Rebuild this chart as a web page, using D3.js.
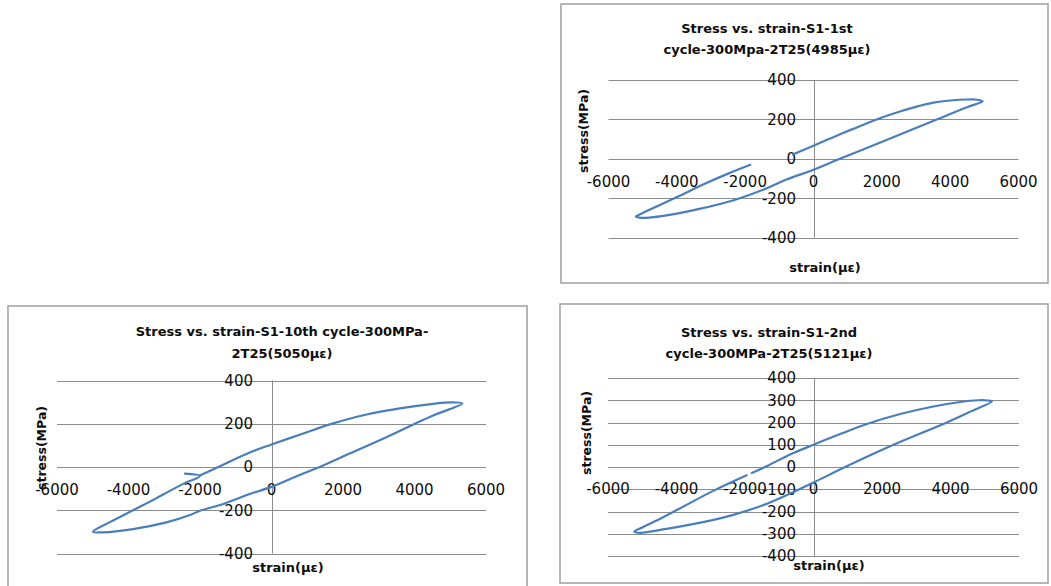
<!DOCTYPE html>
<html>
<head>
<meta charset="utf-8">
<script src="https://cdn.jsdelivr.net/npm/d3@7"></script>
<style>
  body { margin: 0; background: #fff; }
  svg { display: block; }
  text { font-family: "DejaVu Sans", sans-serif; fill: #0d0d0d; }
</style>
</head>
<body>
<div id="chart"></div>
<script>
// tick values
const xTicks = [-6000, -4000, -2000, 0, 2000, 4000, 6000];
const yTicks200 = [-400, -200, 0, 200, 400];
const yTicks100 = [-400, -300, -200, -100, 0, 100, 200, 300, 400];

// S1 1st cycle
const strain1 = [-1850, -2500, -3200, -3950, -4450, -4850, -5100, -5200, -5050, -4800, -4300, -3340, -2360, -1380, -790, 0, 773, 1560, 2530, 3610, 4490, 4950, 4800, 4500, 4000, 3510, 3020, 2530, 1850, 1160, 580, 0, -400, -600];
const stress1 = [-30, -75, -128, -190, -230, -262, -284, -292, -299, -298, -287, -254, -211, -150, -105, -55, 0, 55, 124, 200, 262, 292, 300, 301, 296, 285, 265, 240, 200, 152, 110, 67, 37, 22];

// S1 10th cycle
const strain10 = [-2420, -2000, -2470, -3400, -3870, -4520, -4990, -4710, -3870, -2940, -2280, -2000, -1350, -610, 0, 885, 1350, 2190, 3120, 4010, 4520, 5340, 5000, 4520, 3590, 2660, 1630, 890, 0, -610, -1490, -1990];
const stress10 = [-31, -42, -78, -160, -200, -255, -299, -302, -287, -256, -222, -202, -171, -125, -92, -30, 0, 62, 131, 200, 238, 294, 299, 292, 271, 243, 197, 155, 104, 67, 0, -38];

// S1 2nd cycle
const strain2 = [-1950, -2900, -3950, -4600, -5000, -5230, -5060, -4300, -3300, -2340, -1360, -580, 0, 924, 2335, 3892, 4600, 5210, 5100, 4800, 4280, 3500, 2530, 1560, 780, 0, -700, -1360, -1800];
const stress2 = [-37, -105, -190, -242, -272, -290, -296, -278, -250, -215, -165, -112, -70, 0, 100, 200, 250, 295, 299, 300, 292, 272, 238, 193, 148, 100, 55, 4, -27];

const width = 1051, height = 586;

const panels = [
  {
    frame: [561, 4, 1048, 283],
    xr: [608.5, 1018.5], yr: [80, 237.7],
    yTicks: yTicks200, xLabelY: 182, yLabelRight: 796,
    titleX: 767, titleY: [28, 49],
    title: ["Stress vs. strain-S1-1st", "cycle-300Mpa-2T25(4985\u03bc\u03b5)"],
    yTitle: [583, 131], xTitle: [825, 267],
    strain: strain1, stress: stress1
  },
  {
    frame: [8, 306, 527, 590],
    xr: [57, 486], yr: [380.5, 553.5],
    yTicks: yTicks200, xLabelY: 490, yLabelRight: 253,
    titleX: 282, titleY: [331, 353],
    title: ["Stress vs. strain-S1-10th cycle-300MPa-", "2T25(5050\u03bc\u03b5)"],
    yTitle: [41, 448], xTitle: [288, 567],
    strain: strain10, stress: stress10
  },
  {
    frame: [560, 304, 1048, 583],
    xr: [608, 1019], yr: [378, 556],
    yTicks: yTicks100, xLabelY: 489, yLabelRight: 796,
    titleX: 769, titleY: [332, 353],
    title: ["Stress vs. strain-S1-2nd", "cycle-300MPa-2T25(5121\u03bc\u03b5)"],
    yTitle: [586, 433], xTitle: [829, 565],
    strain: strain2, stress: stress2
  }
];

const svg = d3.select("#chart").append("svg")
  .attr("width", width)
  .attr("height", height);

panels.forEach(p => {
  const g = svg.append("g");
  const [fx0, fy0, fx1, fy1] = p.frame;

  g.append("rect")
    .attr("x", fx0).attr("y", fy0)
    .attr("width", fx1 - fx0).attr("height", fy1 - fy0)
    .attr("fill", "#fff")
    .attr("stroke", "#a6a6a6")
    .attr("stroke-width", 1.6);

  const x = d3.scaleLinear().domain([-6000, 6000]).range(p.xr);
  const y = d3.scaleLinear().domain([400, -400]).range(p.yr);

  // horizontal gridlines
  g.append("g").selectAll("line")
    .data(p.yTicks)
    .join("line")
    .attr("x1", p.xr[0]).attr("x2", p.xr[1])
    .attr("y1", d => Math.round(y(d)) + 0.5)
    .attr("y2", d => Math.round(y(d)) + 0.5)
    .attr("stroke", "#8c8c8c")
    .attr("stroke-width", 1);

  // vertical axis at strain 0
  g.append("line")
    .attr("x1", Math.round(x(0)) + 0.5).attr("x2", Math.round(x(0)) + 0.5)
    .attr("y1", p.yr[0]).attr("y2", p.yr[1])
    .attr("stroke", "#8c8c8c")
    .attr("stroke-width", 1);

  // tick labels
  g.append("g").selectAll("text")
    .data(xTicks)
    .join("text")
    .attr("x", d => x(d))
    .attr("y", p.xLabelY)
    .attr("dy", "0.36em")
    .attr("text-anchor", "middle")
    .style("font-size", "15px")
    .text(d => String(d));

  g.append("g").selectAll("text")
    .data(p.yTicks)
    .join("text")
    .attr("x", p.yLabelRight)
    .attr("y", d => y(d))
    .attr("dy", "0.36em")
    .attr("text-anchor", "end")
    .style("font-size", "15px")
    .text(d => String(d));

  // titles
  g.append("g").selectAll("text")
    .data(p.title)
    .join("text")
    .attr("x", p.titleX)
    .attr("y", (d, i) => p.titleY[i])
    .attr("dy", "0.36em")
    .attr("text-anchor", "middle")
    .style("font-size", "13px")
    .style("font-weight", "bold")
    .text(d => d);

  g.append("text")
    .attr("transform", `translate(${p.yTitle[0]},${p.yTitle[1]}) rotate(-90)`)
    .attr("dy", "0.36em")
    .attr("text-anchor", "middle")
    .style("font-size", "12.5px")
    .style("font-weight", "bold")
    .text("stress(MPa)");

  g.append("text")
    .attr("x", p.xTitle[0])
    .attr("y", p.xTitle[1])
    .attr("dy", "0.36em")
    .attr("text-anchor", "middle")
    .style("font-size", "13px")
    .style("font-weight", "bold")
    .text("strain(\u03bc\u03b5)");

  // the loop
  const pts = p.strain.map((s, i) => [s, p.stress[i]]);
  const line = d3.line()
    .x(d => x(d[0]))
    .y(d => y(d[1]))
    .curve(d3.curveCatmullRom.alpha(0.5));

  g.append("path")
    .datum(pts)
    .attr("d", line)
    .attr("fill", "none")
    .attr("stroke", "#4a7ebb")
    .attr("stroke-width", 2.2)
    .attr("stroke-linejoin", "round")
    .attr("stroke-linecap", "round");
});
</script>
</body>
</html>
